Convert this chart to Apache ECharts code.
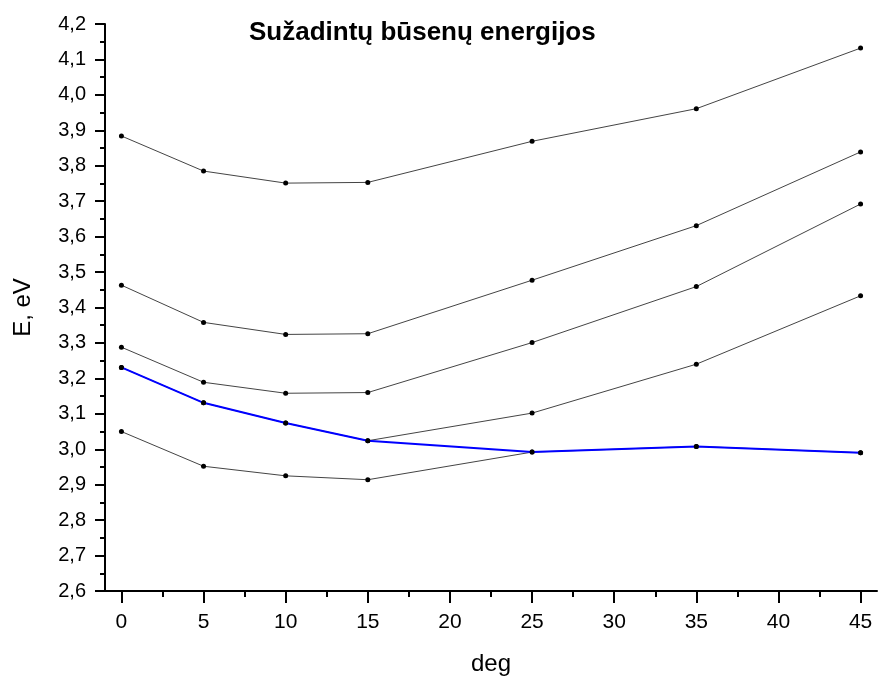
<!DOCTYPE html>
<html>
<head>
<meta charset="utf-8">
<script src="https://cdn.jsdelivr.net/npm/echarts@6/dist/echarts.min.js"></script>
<style>
  html, body { margin: 0; padding: 0; background: #fff; }
  #chart { width: 878px; height: 679px; }
</style>
</head>
<body>
<div id="chart"></div>
<script>
// kampai (deg)
var degrees = [0, 5, 10, 15, 25, 35, 45];
// busenu energijos, eV
var state1 = [3.884, 3.785, 3.751, 3.753, 3.869, 3.961, 4.132];
var state2 = [3.463, 3.358, 3.324, 3.326, 3.477, 3.631, 3.839];
var state3 = [3.288, 3.189, 3.158, 3.160, 3.301, 3.459, 3.692];
var state4 = [3.231, 3.131, 3.074, 3.024, 3.102, 3.240, 3.433];
var state5 = [3.050, 2.952, 2.925, 2.914, 2.992, 3.008, 2.990];
var lowest = [3.231, 3.131, 3.074, 3.024, 2.992, 3.008, 2.990];
var xTicks = [0, 5, 10, 15, 20, 25, 30, 35, 40, 45];
var xMinorTicks = [2.5, 7.5, 12.5, 17.5, 22.5, 27.5, 32.5, 37.5, 42.5];

function pairs(ys) {
    return degrees.map(function (d, i) { return [d, ys[i]]; });
}

function blackLine(name, ys) {
    return {
        name: name,
        type: 'line',
        data: pairs(ys),
        symbol: 'circle',
        symbolSize: 5,
        itemStyle: { color: '#000' },
        lineStyle: { color: '#444', width: 1 },
        z: 2
    };
}

var chartView = echarts.init(document.getElementById('chart'));
chartView.setOption({
    backgroundColor: '#fff',
    animation: false,
    textStyle: { fontFamily: 'Liberation Sans, Arial, sans-serif' },
    title: {
        text: 'Sužadintų būsenų energijos',
        left: 244,
        top: 15,
        textStyle: { fontSize: 26, fontWeight: 'bold', color: '#000', fontFamily: 'Liberation Sans, Arial, sans-serif' }
    },
    grid: {
        left: 105,
        right: 1,
        top: 24,
        bottom: 88,
        outerBoundsMode: 'none'
    },
    xAxis: [
        {
            type: 'value',
            min: -1,
            max: 46,
            name: 'deg',
            nameLocation: 'middle',
            nameGap: 61,
            nameTextStyle: { fontSize: 24, color: '#000' },
            splitLine: { show: false },
            axisLine: { onZero: false, lineStyle: { color: '#000', width: 2 } },
            axisTick: {
                customValues: xTicks,
                length: 12,
                lineStyle: { color: '#000', width: 2 }
            },
            axisLabel: {
                customValues: xTicks,
                margin: 21,
                fontSize: 21,
                color: '#000'
            }
        },
        {
            // smulkūs padalai
            type: 'value',
            min: -1,
            max: 46,
            position: 'bottom',
            splitLine: { show: false },
            axisLine: { show: false, onZero: false },
            axisTick: {
                customValues: xMinorTicks,
                length: 6,
                lineStyle: { color: '#000', width: 2 }
            },
            axisLabel: { show: false }
        }
    ],
    yAxis: {
        type: 'value',
        min: 2.6,
        max: 4.2,
        interval: 0.1,
        name: 'E, eV',
        nameLocation: 'middle',
        nameRotate: 90,
        nameGap: 70,
        nameTextStyle: { fontSize: 24, color: '#000' },
        splitLine: { show: false },
        axisLine: { show: true, onZero: false, lineStyle: { color: '#000', width: 2 } },
        axisTick: { show: true, length: 10, lineStyle: { color: '#000', width: 2 } },
        minorTick: { show: true, splitNumber: 2, length: 5, lineStyle: { color: '#000', width: 2 } },
        axisLabel: {
            margin: 19,
            fontSize: 20,
            color: '#000',
            formatter: function (v) { return v.toFixed(1).replace('.', ','); }
        }
    },
    series: [
        blackLine('1', state1),
        blackLine('2', state2),
        blackLine('3', state3),
        blackLine('4', state4),
        blackLine('5', state5),
        {
            name: 'min',
            type: 'line',
            data: pairs(lowest),
            symbol: 'circle',
            symbolSize: 5,
            itemStyle: { color: '#000' },
            lineStyle: { color: '#0000ff', width: 2 },
            z: 3
        }
    ]
});
window.addEventListener('resize', function () {
    chartView.resize();
});
</script>
</body>
</html>
